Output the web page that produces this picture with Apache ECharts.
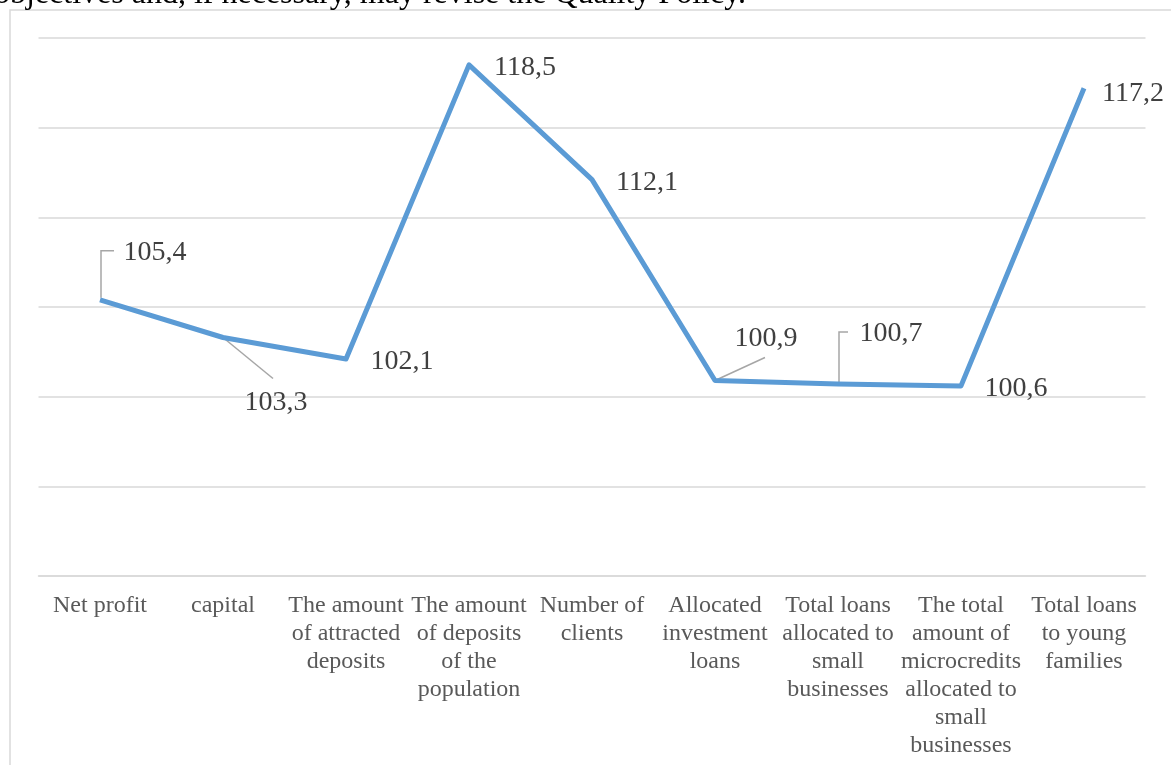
<!DOCTYPE html>
<html>
<head>
<meta charset="utf-8">
<script src="https://cdn.jsdelivr.net/npm/echarts@6/dist/echarts.min.js"></script>
<style>
  html, body { margin: 0; padding: 0; background: #fff; }
  #chart { width: 1171px; height: 765px; }
</style>
</head>
<body>
<div id="chart"></div>
<script>
// data
const categories = [
  'Net profit',
  'capital',
  'The amount\nof attracted\ndeposits',
  'The amount\nof deposits\nof the\npopulation',
  'Number of\nclients',
  'Allocated\ninvestment\nloans',
  'Total loans\nallocated to\nsmall\nbusinesses',
  'The total\namount of\nmicrocredits\nallocated to\nsmall\nbusinesses',
  'Total loans\nto young\nfamilies'
]
const values = [105.4, 103.3, 102.1, 118.5, 112.1, 100.9, 100.7, 100.6, 117.2]
const yTicks = [90, 95, 100, 105, 110, 115, 120]

// where each value label sits relative to its point (px)
const labelOffsets = [[55, -47], [53, 65], [56, 3], [56, 3], [55, 3], [51, -42], [53, -50], [55, 3], [49, 5]]
// leader lines: elbow = up from point then across to label, straight = point to label edge
const leaders = {
  0: { type: 'elbow', dx: -41, dy: -2 },
  1: { type: 'straight', dx: -3, dy: -24 },
  5: { type: 'straight', dx: -1, dy: 19 },
  6: { type: 'elbow', dx: -43, dy: -2 },
}

const FONT = "'Liberation Serif', 'Times New Roman', serif"
const fmt = (v) => v.toFixed(1).replace('.', ',')

const chart = echarts.init(document.getElementById('chart'))

const option = {
  animation: false,
  backgroundColor: '#fff',
  grid: { left: 38.5, right: 25.5, top: 38, bottom: 189, containLabel: false },
  xAxis: {
    type: 'category',
    data: categories,
    boundaryGap: true,
    axisLine: { lineStyle: { color: '#d9d9d9', width: 1.5 } },
    axisTick: { show: false },
    axisLabel: {
      interval: 0,
      margin: 16,
      color: '#595959',
      fontFamily: FONT,
      fontSize: 24,
      lineHeight: 28,
      verticalAlign: 'top',
    },
  },
  yAxis: {
    type: 'value',
    min: yTicks[0],
    max: yTicks[yTicks.length - 1],
    interval: yTicks[1] - yTicks[0],
    axisLine: { show: false },
    axisTick: { show: false },
    axisLabel: { show: false },
    splitLine: { lineStyle: { color: '#d9d9d9', width: 1.5 } },
  },
  series: [
    {
      type: 'line',
      data: values.map((v, i) => ({
        value: v,
        label: { offset: labelOffsets[i] },
      })),
      symbol: 'circle',
      symbolSize: 0.1,
      showSymbol: true,
      lineStyle: { color: '#5b9bd5', width: 5, join: 'round' },
      itemStyle: { color: '#5b9bd5' },
      label: {
        show: true,
        position: 'inside',
        color: '#404040',
        fontFamily: FONT,
        fontSize: 28,
        formatter: (p) => fmt(p.value),
      },
      emphasis: { disabled: true },
      z: 3,
    },
  ],
}

chart.setOption(option)

// frame, cut-off page text and leader lines
const drawExtras = () => {
  const graphics = [
    {
      type: 'rect',
      shape: { x: 10, y: 10, width: 1300, height: 900 },
      style: { fill: 'none', stroke: '#d9d9d9', lineWidth: 1.5 },
      silent: true,
      z: 0,
    },
    {
      type: 'text',
      x: -6,
      y: 11,
      style: {
        text: 'objectives and, if necessary, may revise the Quality Policy.',
        font: '32px ' + FONT,
        fill: '#000',
        verticalAlign: 'bottom',
      },
      silent: true,
    },
  ]
  Object.keys(leaders).forEach((k) => {
    const i = +k
    const ld = leaders[i]
    const p = chart.convertToPixel({ seriesIndex: 0 }, [i, values[i]])
    const cx = p[0] + labelOffsets[i][0]
    const cy = p[1] + labelOffsets[i][1]
    let pts
    if (ld.type === 'elbow') {
      pts = [[p[0] + 1, p[1] - 2], [p[0] + 1, cy + ld.dy], [cx + ld.dx, cy + ld.dy]]
    } else {
      pts = [[p[0], p[1]], [cx + ld.dx, cy + ld.dy]]
    }
    graphics.push({
      type: 'polyline',
      shape: { points: pts },
      style: { stroke: '#a6a6a6', lineWidth: 1.5, fill: 'none' },
      silent: true,
      z: 2,
    })
  })
  chart.setOption({ graphic: graphics })
}
drawExtras()
</script>
</body>
</html>
